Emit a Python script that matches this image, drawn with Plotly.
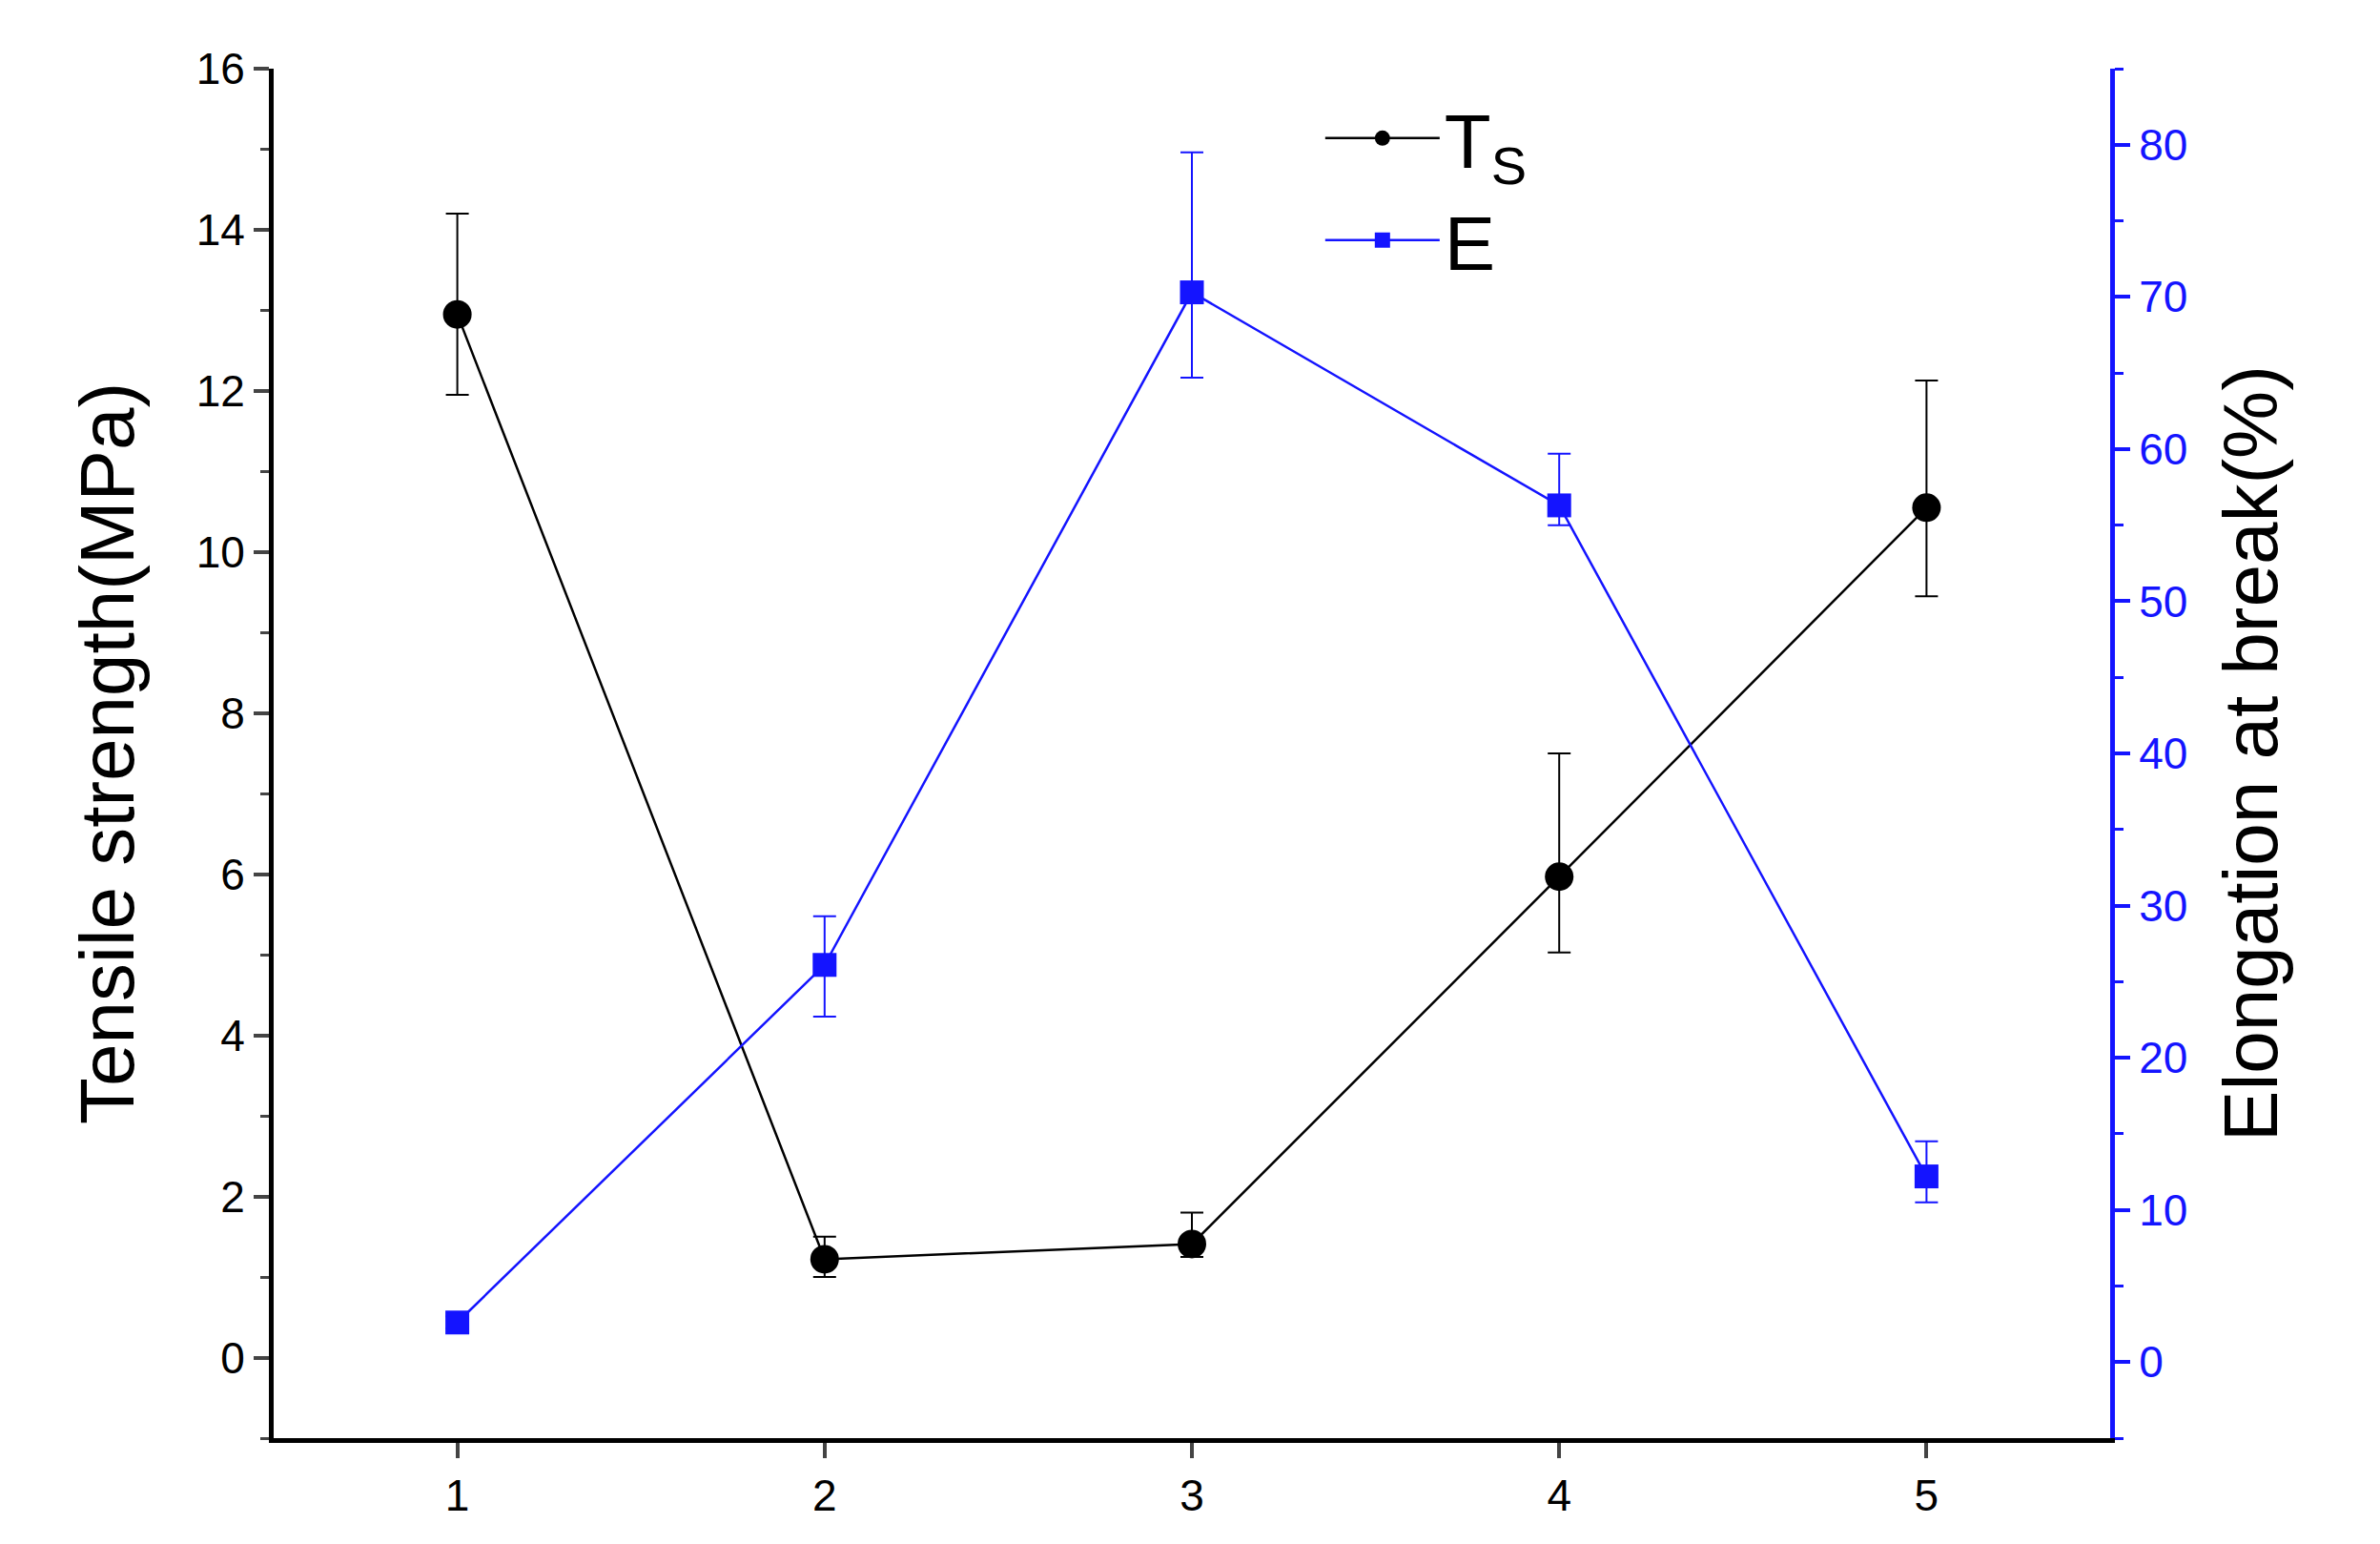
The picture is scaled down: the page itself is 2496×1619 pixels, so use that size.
import plotly.graph_objects as go

x = [1, 2, 3, 4, 5]
ts = [12.95, 1.22, 1.41, 5.97, 10.55]
ts_hi = [14.2, 1.5, 1.8, 7.5, 12.13]
ts_lo = [11.95, 1.0, 1.25, 5.03, 9.45]
el = [2.6, 26.1, 70.3, 56.3, 12.2]
el_hi = [3.0, 29.3, 79.5, 59.7, 14.5]
el_lo = [2.2, 22.7, 64.7, 55.0, 10.5]

BLUE = "#1414ff"
fig = go.Figure()
fig.add_trace(go.Scatter(
    x=x, y=ts, name="T<sub>S</sub>", mode="lines+markers",
    line=dict(color="black", width=2.5), marker=dict(symbol="circle", size=30, color="black"),
    error_y=dict(type="data", symmetric=False,
                 array=[h - v for h, v in zip(ts_hi, ts)],
                 arrayminus=[v - l for v, l in zip(ts, ts_lo)],
                 color="black", thickness=2, width=12)))
fig.add_trace(go.Scatter(
    x=x, y=el, name="E", mode="lines+markers", yaxis="y2",
    line=dict(color=BLUE, width=2.5), marker=dict(symbol="square", size=25, color=BLUE),
    error_y=dict(type="data", symmetric=False,
                 array=[h - v for h, v in zip(el_hi, el)],
                 arrayminus=[v - l for v, l in zip(el, el_lo)],
                 color=BLUE, thickness=2, width=12)))

font = "Liberation Sans, Arial, sans-serif"
fig.update_layout(
    width=2496, height=1619, plot_bgcolor="white", paper_bgcolor="white",
    margin=dict(l=279, r=291, t=64, b=119),
    font=dict(family=font, size=46, color="black"),
    xaxis=dict(range=[0.5, 5.5], tickvals=x, ticks="outside", ticklen=16, tickwidth=4,
               showline=True, linecolor="black", linewidth=5, showgrid=False, zeroline=False),
    yaxis=dict(range=[-1, 16], dtick=2, ticks="outside", ticklen=16, tickwidth=4,
               showline=True, linecolor="black", linewidth=5, showgrid=False, zeroline=False,
               minor=dict(dtick=1, ticks="outside", ticklen=9, tickwidth=3),
               title=dict(text="Tensile strength(MPa)", font=dict(size=80), standoff=40)),
    yaxis2=dict(range=[-5, 85], dtick=10, overlaying="y", side="right", ticks="outside",
                ticklen=16, tickwidth=4, tickcolor=BLUE, showline=True, linecolor=BLUE,
                linewidth=5, showgrid=False, zeroline=False, tickfont=dict(color=BLUE),
                minor=dict(dtick=5, ticks="outside", ticklen=9, tickwidth=3, tickcolor=BLUE),
                title=dict(text="Elongation at break(%)", font=dict(size=80, color="black"), standoff=40)),
    legend=dict(x=0.57, y=0.99, xanchor="left", yanchor="top", font=dict(size=80),
                bgcolor="rgba(0,0,0,0)", itemwidth=120, tracegroupgap=20),
    showlegend=True,
)
fig.write_html("out.html")
